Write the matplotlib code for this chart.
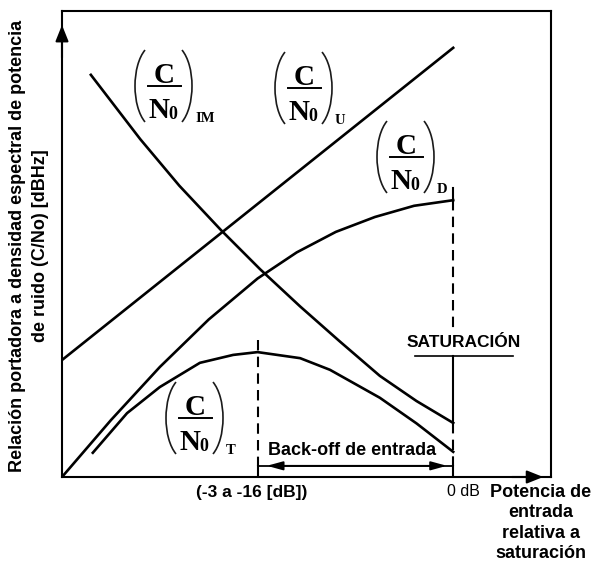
import matplotlib
matplotlib.use('Agg')
import matplotlib.pyplot as plt
from matplotlib.patches import Arc
from matplotlib.lines import Line2D
from matplotlib.transforms import Affine2D

plt.rcParams['font.family'] = ['Liberation Sans', 'DejaVu Sans']

# potencia de entrada (0 dB de saturación en x=80, back-off en x=40)
x_sat = 80
x_bo = 40

# (C/N0) enlace ascendente
x_u = [0, 80]
y_u = [25.1, 92.1]

# (C/N0) intermodulación
x_im = [5.9, 16.0, 24.0, 32.5, 40.5, 48.7, 56.8, 65.0, 72.5, 80.0]
y_im = [86.3, 72.5, 62.5, 53.0, 44.6, 36.6, 29.1, 21.7, 16.3, 11.6]

# (C/N0) enlace descendente
x_d = [0, 10, 20, 30, 40, 48, 56, 64, 72, 80]
y_d = [0, 12.2, 23.6, 33.8, 42.6, 48.2, 52.6, 55.8, 58.2, 59.4]

# (C/N0) total
x_t = [6.3, 13.3, 20.0, 28.2, 35.0, 40.0, 48.7, 54.8, 65.0, 72.5, 80.0]
y_t = [5.2, 13.7, 19.3, 24.5, 26.2, 26.8, 25.5, 23.0, 17.0, 11.5, 5.4]

W, H = 598, 568
fig = plt.figure(figsize=(W / 100, H / 100), dpi=100)
ax = fig.add_axes([62 / W, 1 - 477 / H, 489 / W, 466 / H])
ax.set_xlim(0, 100)
ax.set_ylim(0, 100)
ax.set_xticks([])
ax.set_yticks([])
for s in ax.spines.values():
    s.set_linewidth(1.5)
    s.set_color('black')

lw = 1.9
ax.plot(x_u, y_u, color='black', lw=lw)
ax.plot(x_im, y_im, color='black', lw=lw)
ax.plot(x_d, y_d, color='black', lw=lw)
ax.plot(x_t, y_t, color='black', lw=lw)

# flechas de los ejes
arr = dict(arrowstyle='-|>,head_length=0.7,head_width=0.28', color='black', lw=1.5,
           mutation_scale=14, shrinkA=0, shrinkB=0)
ax.annotate('', xy=(0, 97), xytext=(0, 90), arrowprops=arr, annotation_clip=False)
ax.annotate('', xy=(98.4, 0), xytext=(92, 0), arrowprops=arr, annotation_clip=False)

# líneas verticales de back-off y saturación
dash = (0, (5, 3))
y_arrow = 2.4
ax.plot([x_bo, x_bo], [29.4, y_arrow], color='black', lw=1.5, ls=dash)
ax.plot([x_bo, x_bo], [y_arrow, 0], color='black', lw=1.5)
ax.plot([x_sat, x_sat], [y_d[-1], 62.0], color='black', lw=1.5)
ax.plot([x_sat, x_sat], [y_d[-1], 31.5], color='black', lw=1.5, ls=dash)
ax.plot([x_sat, x_sat], [26.0, y_im[-1]], color='black', lw=1.5)
ax.plot([x_sat, x_sat], [y_im[-1], y_arrow], color='black', lw=1.5, ls=dash)
ax.plot([x_sat, x_sat], [y_arrow, 0], color='black', lw=1.5)

# flecha del back-off de entrada
ax.plot([x_bo, x_sat], [y_arrow, y_arrow], color='black', lw=1.3)
ax.annotate('', xy=(41.9, y_arrow), xytext=(78.7, y_arrow),
            arrowprops=dict(arrowstyle='<|-|>,head_length=0.8,head_width=0.22',
                            color='black', lw=1.3, mutation_scale=12,
                            shrinkA=0, shrinkB=0))
ax.text(59.4, 5.6, 'Back-off de entrada', fontsize=13, fontweight='bold',
        ha='center', va='center')

ax.text(82.2, 28.8, 'SATURACIÓN', fontsize=12.5, fontweight='bold',
        ha='center', va='center')
ax.plot([72.2, 92.2], [26.0, 26.0], color='black', lw=1.2)

# etiquetas (C/N0)_x en píxeles, origen arriba a la izquierda
pix = Affine2D().scale(1, -1).translate(0, H)
serif = 'Liberation Serif'


def cn0(x0, yb, sub):
    # x0: borde izquierdo del paréntesis, yb: altura de la raya de fracción
    pc = '#1a1a1a'
    fig.add_artist(Arc((x0 + 20, yb), 40, 83, theta1=105.5, theta2=254.5,
                       transform=pix, color=pc, lw=1.2))
    fig.add_artist(Arc((x0 + 37, yb), 40, 83, theta1=-74.5, theta2=74.5,
                       transform=pix, color=pc, lw=1.2))
    fig.add_artist(Line2D([x0 + 13, x0 + 46], [yb, yb], transform=pix,
                          color='black', lw=1.4))
    fig.text(x0 + 29, yb - 3, 'C', transform=pix, family=serif, fontweight='bold',
             fontsize=21, ha='center', va='baseline')
    fig.text(x0 + 24, yb + 32, 'N', transform=pix, family=serif, fontweight='bold',
             fontsize=21, ha='center', va='baseline')
    fig.text(x0 + 33, yb + 33, '0', transform=pix, family=serif, fontweight='bold',
             fontsize=13, ha='left', va='baseline')
    fig.text(x0 + 60, yb + 36, sub, transform=pix, family=serif, fontweight='bold',
             fontsize=10.5, ha='left', va='baseline')


cn0(135, 86, 'IM')
cn0(275, 88, 'U')
cn0(377, 157, 'D')
cn0(166, 418, 'T')

# textos fuera de los ejes
fig.text(18 / W, 1 - 246 / H, 'Relación portadora a densidad espectral de potencia',
         rotation=90, fontsize=13, fontweight='bold', ha='center', va='center')
fig.text(41 / W, 1 - 246 / H, 'de ruido (C/No) [dBHz]',
         rotation=90, fontsize=13, fontweight='bold', ha='center', va='center')
fig.text(252 / W, 1 - 493 / H, '(-3 a -16 [dB])', fontsize=12.5, fontweight='bold',
         ha='center', va='center')
fig.text(463 / W, 1 - 491 / H, '0 dB', fontsize=11.5, ha='center', va='center')
fig.text(541 / W, 1 - 484 / H, 'Potencia de\nentrada\nrelativa a\nsaturación',
         fontsize=13, fontweight='bold', ha='center', va='top',
         multialignment='center', linespacing=1.25)

fig.savefig('out.png', dpi=100)
